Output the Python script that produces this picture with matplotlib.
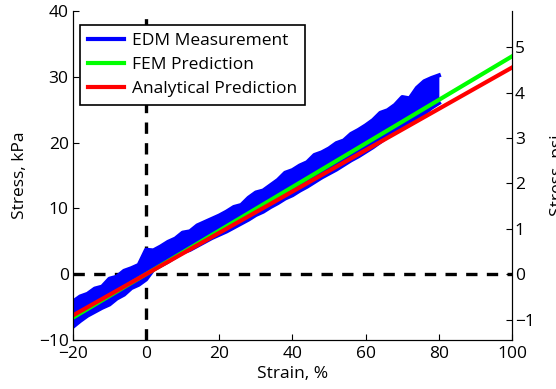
import matplotlib.pyplot as plt
import numpy as np

plt.rcParams['font.family'] = ['Open Sans', 'DejaVu Sans']
plt.rcParams['font.size'] = 12.5

KPA_PER_PSI = 6.895

# measured stress band (kPa), upper and lower envelope every 2 % strain
strain_meas = np.arange(-20, 81, 2)
stress_upper = [-4.2, -3.4, -3.0, -2.2, -1.9, -0.7, -0.4, 0.5, 0.9, 1.4,
                3.7, 3.6, 4.2, 4.9, 5.4, 6.3, 6.5, 7.4, 7.9, 8.4,
                8.9, 9.5, 10.2, 10.5, 11.6, 12.4, 12.7, 13.5, 14.3, 15.4,
                15.8, 16.5, 17.0, 18.1, 18.5, 19.1, 19.9, 20.3, 21.3, 21.9,
                22.6, 23.4, 24.5, 24.9, 25.7, 26.9, 26.7, 28.3, 29.3, 29.8, 30.2]
stress_lower = [-8.0, -7.1, -6.3, -5.7, -5.1, -4.6, -3.7, -3.1, -2.1, -1.6,
                -0.8, 0.7, 1.3, 1.9, 2.6, 3.3, 3.7, 4.3, 4.9, 5.5,
                6.0, 6.5, 7.1, 7.7, 8.3, 9.0, 9.5, 10.2, 10.8, 11.5,
                12.0, 12.7, 13.3, 14.0, 14.7, 15.3, 15.9, 16.6, 17.3, 17.9,
                18.6, 19.3, 20.1, 20.9, 21.6, 22.3, 22.9, 23.5, 24.4, 25.3, 26.0]

# model predictions (kPa)
strain_model = [-20, 100]
stress_fem = [-6.62, 33.1]
stress_analytical = [-6.28, 31.4]

fig = plt.figure(figsize=(5.56, 3.89), dpi=100)
ax = fig.add_axes([0.131, 0.126, 0.79, 0.846])

# dashed reference axes through the origin
ax.plot([-20, 100], [0, 0], 'k', lw=2.4, linestyle=(0, (3.4, 2.8)), zorder=1)
ax.plot([0, 0], [-10, 40], 'k', lw=2.4, linestyle=(0, (3.4, 2.8)), zorder=1)

ax.fill_between(strain_meas, stress_lower, stress_upper, color='#0000ff', lw=0, zorder=2)
ax.plot(strain_meas, stress_upper, color='#0000ff', lw=3, zorder=2, label='EDM Measurement')
ax.plot(strain_meas, stress_lower, color='#0000ff', lw=3, zorder=2)
ax.plot(strain_model, stress_fem, color='#00ff00', lw=3, zorder=3, label='FEM Prediction')
ax.plot(strain_model, stress_analytical, color='#ff0000', lw=3, zorder=4, label='Analytical Prediction')

ax.set_xlim(-20, 100)
ax.set_ylim(-10, 40)
ax.set_xticks(np.arange(-20, 101, 20))
ax.set_yticks(np.arange(-10, 41, 10))
ax.set_xlabel('Strain, %', labelpad=3)
ax.set_ylabel('Stress, kPa', labelpad=8)
ax.tick_params(direction='in', length=4, width=0.8, pad=3)
ax.tick_params(axis='x', pad=4)
ax.spines['top'].set_visible(False)

ax2 = ax.twinx()
ax2.set_ylim(-10 / KPA_PER_PSI, 40 / KPA_PER_PSI)
ax2.set_yticks(np.arange(-1, 6, 1))
ax2.set_yticklabels(['\u22121', '0', '1', '2', '3', '4', '5'])
ax2.set_ylabel('Stress, psi', rotation=90, labelpad=11)
ax2.tick_params(direction='in', length=4, width=0.8, pad=2)
ax2.spines['top'].set_visible(False)

leg = ax.legend(loc='upper left', bbox_to_anchor=(0.016, 0.957), borderaxespad=0,
                fancybox=False, framealpha=1, edgecolor='black', handlelength=2.1,
                handletextpad=0.45, borderpad=0.45, labelspacing=0.45)
leg.get_frame().set_linewidth(1.2)

fig.savefig('out.png', dpi=100)
